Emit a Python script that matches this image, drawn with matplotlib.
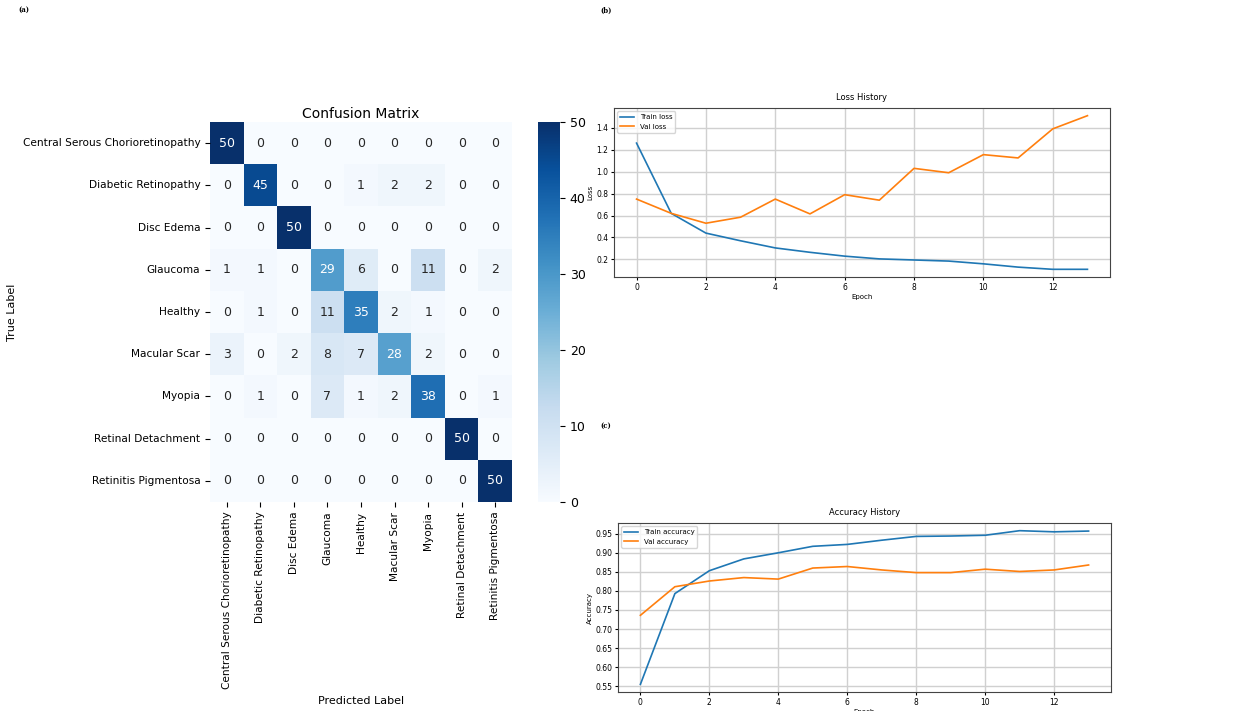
import numpy as np
import matplotlib.pyplot as plt
import seaborn as sns

classes = ['Central Serous Chorioretinopathy', 'Diabetic Retinopathy', 'Disc Edema',
           'Glaucoma', 'Healthy', 'Macular Scar', 'Myopia', 'Retinal Detachment',
           'Retinitis Pigmentosa']
cm = np.array([
    [50, 0, 0, 0, 0, 0, 0, 0, 0],
    [0, 45, 0, 0, 1, 2, 2, 0, 0],
    [0, 0, 50, 0, 0, 0, 0, 0, 0],
    [1, 1, 0, 29, 6, 0, 11, 0, 2],
    [0, 1, 0, 11, 35, 2, 1, 0, 0],
    [3, 0, 2, 8, 7, 28, 2, 0, 0],
    [0, 1, 0, 7, 1, 2, 38, 0, 1],
    [0, 0, 0, 0, 0, 0, 0, 50, 0],
    [0, 0, 0, 0, 0, 0, 0, 0, 50],
])

epochs = list(range(14))
train_loss = [1.26, 0.62, 0.44, 0.37, 0.305, 0.265, 0.23, 0.205, 0.195, 0.185, 0.16, 0.13, 0.11, 0.11]
val_loss = [0.75, 0.62, 0.53, 0.585, 0.75, 0.615, 0.79, 0.74, 1.03, 0.99, 1.155, 1.125, 1.39, 1.51]
train_acc = [0.555, 0.793, 0.853, 0.884, 0.900, 0.917, 0.922, 0.933, 0.943, 0.944, 0.946, 0.958, 0.955, 0.957]
val_acc = [0.736, 0.811, 0.826, 0.835, 0.831, 0.860, 0.864, 0.855, 0.848, 0.848, 0.857, 0.851, 0.855, 0.868]

W, H = 1247, 711
fig = plt.figure(figsize=(W / 100, H / 100), dpi=100)


def box(x0, y0, x1, y1):
    # pixel box (top-left origin) -> figure fraction
    return [x0 / W, 1 - y1 / H, (x1 - x0) / W, (y1 - y0) / H]


# (a) confusion matrix
ax_cm = fig.add_axes(box(210, 122, 512, 502))
ax_cb = fig.add_axes(box(538, 122, 560, 502))
sns.heatmap(cm, annot=True, fmt='d', cmap='Blues', ax=ax_cm, cbar_ax=ax_cb,
            xticklabels=classes, yticklabels=classes, annot_kws={'fontsize': 9})
ax_cm.set_title('Confusion Matrix', fontsize=10, pad=3)
ax_cm.set_xlabel('Predicted Label', fontsize=8)
ax_cm.set_ylabel('True Label', fontsize=8)
ax_cm.xaxis.set_label_coords(0.5, -0.51)
ax_cm.yaxis.set_label_coords(-0.639, 0.5)
ax_cm.tick_params(axis='both', labelsize=7.6)
plt.setp(ax_cm.get_xticklabels(), rotation=90)
plt.setp(ax_cm.get_yticklabels(), rotation=0)
ax_cb.tick_params(labelsize=9)
ax_cb.set_yticks([0, 10, 20, 30, 40, 50])

# (b) loss history
ax_l = fig.add_axes(box(614, 108, 1110, 277))
ax_l.plot(epochs, train_loss, label='Train loss', lw=1.2)
ax_l.plot(epochs, val_loss, label='Val loss', lw=1.2)
ax_l.set_title('Loss History', fontsize=6)
ax_l.set_xlabel('Epoch', fontsize=5, labelpad=2)
ax_l.set_ylabel('Loss', fontsize=5, labelpad=2)
ax_l.set_xticks([0, 2, 4, 6, 8, 10, 12])
ax_l.set_yticks([0.2, 0.4, 0.6, 0.8, 1.0, 1.2, 1.4])
ax_l.tick_params(labelsize=5.5, length=2, pad=2)
ax_l.legend(fontsize=5, loc='upper left')
ax_l.grid(True, lw=1, color='#d0d0d0')

# (c) accuracy history
ax_a = fig.add_axes(box(618, 523, 1111, 692))
ax_a.plot(epochs, train_acc, label='Train accuracy', lw=1.2)
ax_a.plot(epochs, val_acc, label='Val accuracy', lw=1.2)
ax_a.set_title('Accuracy History', fontsize=6)
ax_a.set_xlabel('Epoch', fontsize=5, labelpad=2)
ax_a.set_ylabel('Accuracy', fontsize=5, labelpad=2)
ax_a.set_xticks([0, 2, 4, 6, 8, 10, 12])
ax_a.set_yticks(np.arange(0.55, 0.951, 0.05))
ax_a.tick_params(labelsize=5.5, length=2, pad=2)
ax_a.legend(fontsize=5, loc='upper left')
ax_a.grid(True, lw=1, color='#d0d0d0')

for ax in (ax_l, ax_a):
    for sp in ax.spines.values():
        sp.set_color('#444444')

for x, y, s in [(24, 10, '(a)'), (606, 11, '(b)'), (606, 426, '(c)')]:
    fig.text(x / W, 1 - y / H, s, fontsize=5, family='serif', weight='bold',
             ha='center', va='center')

fig.savefig('out.png', dpi=100)
